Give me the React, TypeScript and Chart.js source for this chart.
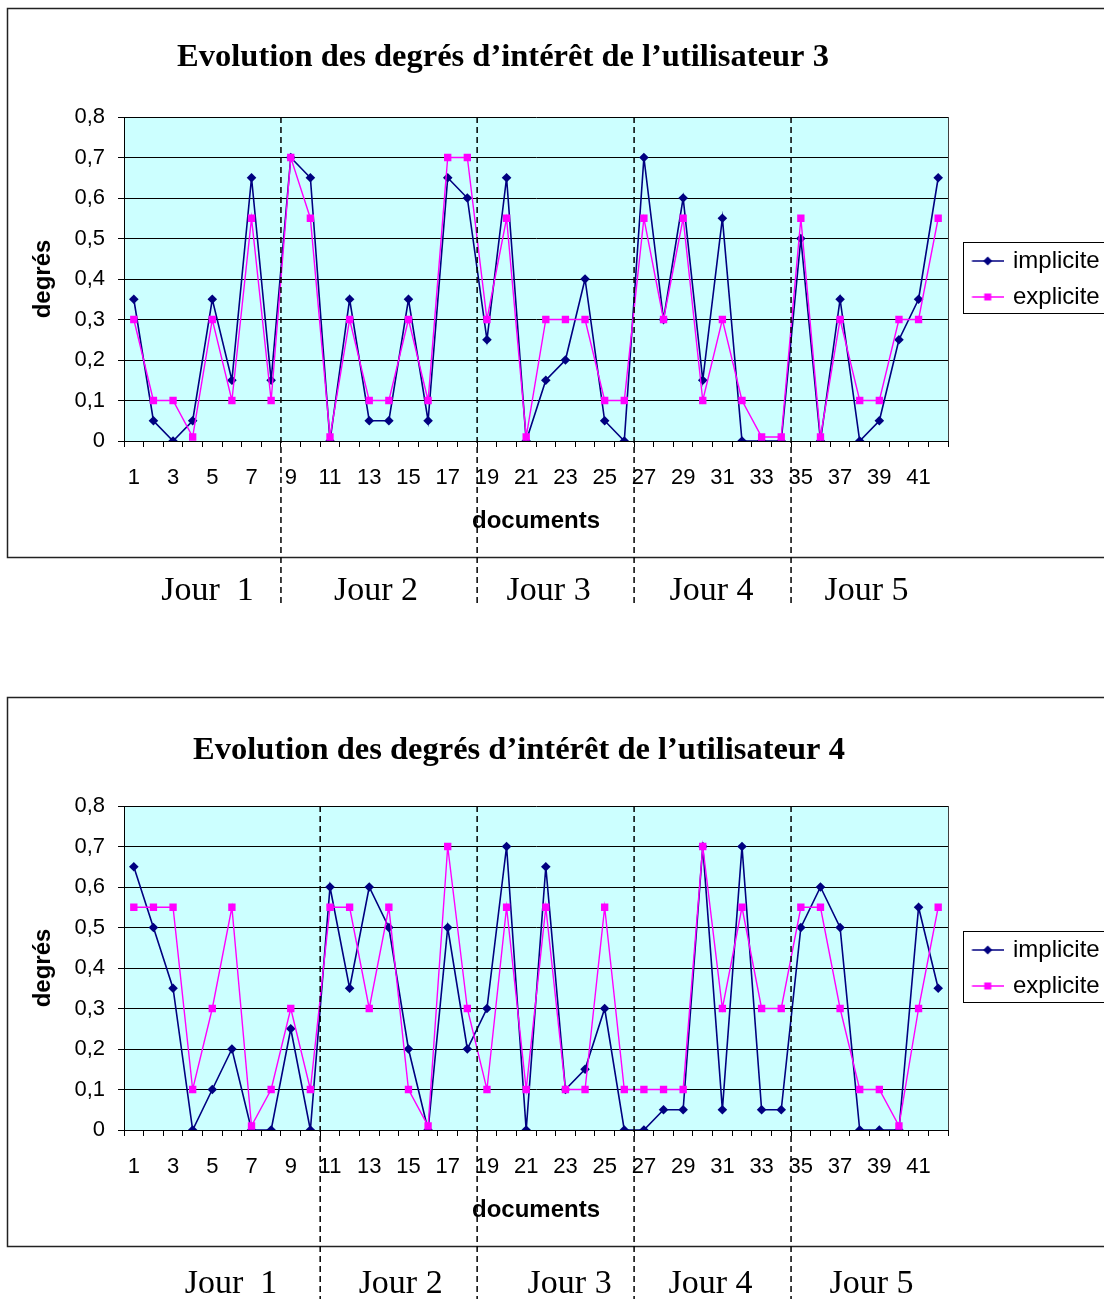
import React, { useEffect, useRef } from 'react';
import { Chart, registerables } from 'chart.js';

Chart.register(...registerables);

// ---------- data ----------
const documents = [
  '1', '2', '3', '4', '5', '6', '7', '8', '9', '10',
  '11', '12', '13', '14', '15', '16', '17', '18', '19', '20',
  '21', '22', '23', '24', '25', '26', '27', '28', '29', '30',
  '31', '32', '33', '34', '35', '36', '37', '38', '39', '40',
  '41', '42',
];

const user3Implicite = [
  0.35, 0.05, 0, 0.05, 0.35, 0.15, 0.65, 0.15, 0.7, 0.65,
  0, 0.35, 0.05, 0.05, 0.35, 0.05, 0.65, 0.6, 0.25, 0.65,
  0, 0.15, 0.2, 0.4, 0.05, 0, 0.7, 0.3, 0.6, 0.15,
  0.55, 0, 0, 0, 0.5, 0, 0.35, 0, 0.05, 0.25,
  0.35, 0.65,
];
const user3Explicite = [
  0.3, 0.1, 0.1, 0.01, 0.3, 0.1, 0.55, 0.1, 0.7, 0.55,
  0.01, 0.3, 0.1, 0.1, 0.3, 0.1, 0.7, 0.7, 0.3, 0.55,
  0.01, 0.3, 0.3, 0.3, 0.1, 0.1, 0.55, 0.3, 0.55, 0.1,
  0.3, 0.1, 0.01, 0.01, 0.55, 0.01, 0.3, 0.1, 0.1, 0.3,
  0.3, 0.55,
];

const user4Implicite = [
  0.65, 0.5, 0.35, 0, 0.1, 0.2, 0, 0, 0.25, 0,
  0.6, 0.35, 0.6, 0.5, 0.2, 0, 0.5, 0.2, 0.3, 0.7,
  0, 0.65, 0.1, 0.15, 0.3, 0, 0, 0.05, 0.05, 0.7,
  0.05, 0.7, 0.05, 0.05, 0.5, 0.6, 0.5, 0, 0, 0,
  0.55, 0.35,
];
const user4Explicite = [
  0.55, 0.55, 0.55, 0.1, 0.3, 0.55, 0.01, 0.1, 0.3, 0.1,
  0.55, 0.55, 0.3, 0.55, 0.1, 0.01, 0.7, 0.3, 0.1, 0.55,
  0.1, 0.55, 0.1, 0.1, 0.55, 0.1, 0.1, 0.1, 0.1, 0.7,
  0.3, 0.55, 0.3, 0.3, 0.55, 0.55, 0.3, 0.1, 0.1, 0.01,
  0.3, 0.55,
];

const dayNames = ['Jour  1', 'Jour 2', 'Jour 3', 'Jour 4', 'Jour 5'];
// index of first document of each day
const user3DayStarts = [0, 8, 18, 26, 34];
const user4DayStarts = [0, 10, 18, 26, 34];

const seriesNames = ['implicite', 'explicite'];
const user3Title = 'Evolution des degrés d’intérêt de l’utilisateur 3';
const user4Title = 'Evolution des degrés d’intérêt de l’utilisateur 4';
const yAxisTitle = 'degrés';
const xAxisTitle = 'documents';

// ---------- styling / layout ----------
const NAVY = '#000080';
const MAGENTA = '#FF00FF';
const PLOT_BG = '#CCFFFF';
const SANS = "'Liberation Sans', Arial, sans-serif";
const SERIF = "'Liberation Serif', 'Times New Roman', serif";

const CANVAS_H = 610;
const PLOT_LEFT = 124; // page px
const LEGEND_W = 158;
const PAGE_RIGHT = 1106;

function makeLegendSwatch(color: string, style: 'diamond' | 'square') {
  const c = document.createElement('canvas');
  c.width = 46;
  c.height = 12;
  const g = c.getContext('2d')!;
  g.strokeStyle = color;
  g.lineWidth = 1.5;
  g.beginPath();
  g.moveTo(14.5, 6);
  g.lineTo(46, 6);
  g.stroke();
  g.fillStyle = color;
  const cx = 30.25;
  const cy = 6;
  if (style === 'diamond') {
    g.beginPath();
    g.moveTo(cx, cy - 4.5);
    g.lineTo(cx + 4.5, cy);
    g.lineTo(cx, cy + 4.5);
    g.lineTo(cx - 4.5, cy);
    g.closePath();
    g.fill();
  } else {
    g.fillRect(cx - 3.5, cy - 3.5, 7, 7);
  }
  return c;
}

const decorPlugin = {
  id: 'decor',
  beforeDraw(chart: any, _args: any, opts: any) {
    const { ctx, chartArea: a } = chart;
    ctx.save();
    ctx.fillStyle = '#ffffff';
    ctx.fillRect(opts.frameLeft, opts.frameTop, chart.width, opts.frameBottom - opts.frameTop);
    ctx.strokeStyle = '#222222';
    ctx.lineWidth = 1.5;
    ctx.strokeRect(opts.frameLeft, opts.frameTop, chart.width + 20, opts.frameBottom - opts.frameTop);
    ctx.fillStyle = PLOT_BG;
    ctx.fillRect(a.left, a.top, a.right - a.left, a.bottom - a.top);
    ctx.restore();
  },
  afterDraw(chart: any, _args: any, opts: any) {
    const { ctx, chartArea: a } = chart;
    const xs = chart.scales.x;
    ctx.save();
    // plot area right edge
    ctx.strokeStyle = '#404040';
    ctx.lineWidth = 1;
    ctx.beginPath();
    ctx.moveTo(Math.round(a.right) + 0.5, a.top);
    ctx.lineTo(Math.round(a.right) + 0.5, a.bottom);
    ctx.stroke();

    // legend border
    const lg = chart.legend;
    if (lg && lg.legendHitBoxes && lg.legendHitBoxes.length) {
      const boxes = lg.legendHitBoxes;
      const left = Math.min(...boxes.map((b: any) => b.left)) + 3;
      const top = Math.min(...boxes.map((b: any) => b.top)) - 7;
      const bottom = Math.max(...boxes.map((b: any) => b.top + b.height)) + 4;
      ctx.strokeStyle = '#000';
      ctx.lineWidth = 1;
      ctx.strokeRect(Math.round(left) + 0.5, Math.round(top) + 0.5, chart.width, Math.round(bottom - top));
    }

    // day separators
    const starts: number[] = opts.dayStarts;
    const bounds: number[] = [a.left];
    for (let i = 1; i < starts.length; i++) {
      const s = starts[i];
      bounds.push((xs.getPixelForValue(s - 1) + xs.getPixelForValue(s)) / 2);
    }
    bounds.push(a.right);
    ctx.strokeStyle = '#000';
    ctx.lineWidth = 1.5;
    ctx.setLineDash([6, 4]);
    for (let i = 1; i < bounds.length - 1; i++) {
      ctx.beginPath();
      ctx.moveTo(bounds[i], a.top);
      ctx.lineTo(bounds[i], opts.dashEnd);
      ctx.stroke();
    }
    ctx.setLineDash([]);

    // day labels
    ctx.fillStyle = '#000';
    ctx.font = `34px ${SERIF}`;
    ctx.textAlign = 'center';
    ctx.textBaseline = 'alphabetic';
    const names: string[] = opts.dayNames;
    for (let i = 0; i < names.length; i++) {
      const cx = (bounds[i] + bounds[i + 1]) / 2 + (opts.dayNudge ? opts.dayNudge[i] : 0);
      ctx.fillText(names[i], cx, opts.jourBaseline);
    }
    ctx.restore();
  },
};

type PanelProps = {
  title: string;
  implicite: number[];
  explicite: number[];
  dayStarts: number[];
  pageTop: number;
  canvasLeft: number;
  titleCenterY: number;
  dashEnd: number;
  jourBaseline: number;
  dayNudge: number[];
};

function Panel(p: PanelProps) {
  const ref = useRef<HTMLCanvasElement | null>(null);
  const canvasW = PAGE_RIGHT - p.canvasLeft;
  const yAxisW = PLOT_LEFT - p.canvasLeft;

  useEffect(() => {
    if (!ref.current) return;
    const titleLH = 32.5 * 1.2;
    const titlePadTop = p.titleCenterY - titleLH / 2;
    const titlePadBottom = 117 - titlePadTop - titleLH;
    const swatchI = makeLegendSwatch(NAVY, 'diamond');
    const swatchE = makeLegendSwatch(MAGENTA, 'square');

    const chart = new Chart(ref.current, {
      type: 'line',
      data: {
        labels: documents,
        datasets: [
          {
            label: seriesNames[0],
            data: p.implicite,
            borderColor: NAVY,
            backgroundColor: NAVY,
            borderWidth: 1.6,
            pointStyle: 'rectRot',
            pointRadius: 4.8,
            pointBorderWidth: 0,
            pointBackgroundColor: NAVY,
            tension: 0,
            order: 1,
          },
          {
            label: seriesNames[1],
            data: p.explicite,
            borderColor: MAGENTA,
            backgroundColor: MAGENTA,
            borderWidth: 1.4,
            pointStyle: 'rect',
            pointRadius: 5.2,
            pointBorderWidth: 0,
            pointBackgroundColor: MAGENTA,
            tension: 0,
            order: 0,
          },
        ],
      },
      options: {
        responsive: false,
        animation: false,
        events: [],
        layout: { padding: 0 },
        scales: {
          x: {
            type: 'category',
            offset: true,
            grid: {
              offset: true,
              drawOnChartArea: false,
              drawTicks: true,
              tickLength: 6,
              color: '#000',
            },
            border: { color: '#000', width: 1 },
            ticks: {
              autoSkip: false,
              maxRotation: 0,
              minRotation: 0,
              padding: 18,
              color: '#000',
              font: { family: SANS, size: 22 },
              callback: function (this: any, value: any, index: number) {
                return index % 2 === 0 ? this.getLabelForValue(value) : '';
              },
            },
            title: {
              display: true,
              text: xAxisTitle,
              color: '#000',
              font: { family: SANS, size: 24, weight: 'bold' },
              padding: { top: 0, bottom: 74 },
            },
            afterFit: (scale: any) => {
              scale.height = CANVAS_H - 441;
            },
          },
          y: {
            type: 'linear',
            min: 0,
            max: 0.8,
            grid: {
              color: '#000',
              lineWidth: 1,
              drawTicks: true,
              tickLength: 6,
            },
            border: { color: '#000', width: 1 },
            ticks: {
              stepSize: 0.1,
              padding: 13,
              color: '#000',
              font: { family: SANS, size: 22 },
              callback: (v: any) => (Number(v) === 0 ? '0' : Number(v).toFixed(1).replace('.', ',')),
            },
            title: {
              display: true,
              text: yAxisTitle,
              color: '#000',
              font: { family: SANS, size: 24, weight: 'bold' },
              padding: { top: 43 - p.canvasLeft - 14.4, bottom: 0 },
            },
            afterFit: (scale: any) => {
              scale.width = yAxisW;
            },
          },
        },
        plugins: {
          tooltip: { enabled: false },
          title: {
            display: true,
            text: p.title,
            color: '#000',
            font: { family: SERIF, size: 32.5, weight: 'bold' },
            padding: { top: titlePadTop, bottom: titlePadBottom },
          },
          legend: {
            display: true,
            position: 'right',
            fullSize: false,
            maxWidth: LEGEND_W,
            labels: {
              usePointStyle: true,
              pointStyleWidth: 41,
              padding: 12,
              color: '#000',
              font: { family: SANS, size: 24 },
              sort: (a: any, b: any) => a.datasetIndex - b.datasetIndex,
              generateLabels: (chart: any) => {
                const base = Chart.defaults.plugins.legend.labels.generateLabels(chart);
                return base.map((item: any) => ({
                  ...item,
                  pointStyle: item.datasetIndex === 0 ? swatchI : swatchE,
                }));
              },
            },
          },
          decor: {
            frameLeft: 7 - p.canvasLeft + 0.5,
            frameTop: 8.5,
            frameBottom: 557.5,
            dayStarts: p.dayStarts,
            dayNames: dayNames,
            dashEnd: p.dashEnd,
            jourBaseline: p.jourBaseline,
            dayNudge: p.dayNudge,
          },
        } as any,
      },
      plugins: [decorPlugin],
    } as any);
    return () => chart.destroy();
  }, []);

  return (
    <canvas
      ref={ref}
      width={canvasW}
      height={CANVAS_H}
      style={{
        position: 'absolute',
        left: p.canvasLeft,
        top: p.pageTop,
        width: canvasW,
        height: CANVAS_H,
      }}
    />
  );
}

export default function App() {
  return (
    <div
      style={{
        position: 'absolute',
        left: 0,
        top: 0,
        width: 1104,
        height: 1300,
        overflow: 'hidden',
        background: '#fff',
      }}
    >
      <Panel
        title={user3Title}
        implicite={user3Implicite}
        explicite={user3Explicite}
        dayStarts={user3DayStarts}
        pageTop={0}
        canvasLeft={-100}
        titleCenterY={58}
        dashEnd={603}
        jourBaseline={600}
        dayNudge={[5, -3, -7, -1, -3]}
      />
      <Panel
        title={user4Title}
        implicite={user4Implicite}
        explicite={user4Explicite}
        dayStarts={user4DayStarts}
        pageTop={689}
        canvasLeft={-68}
        titleCenterY={62}
        dashEnd={612}
        jourBaseline={604}
        dayNudge={[9, 2, 14, -2, 2]}
      />
    </div>
  );
}
